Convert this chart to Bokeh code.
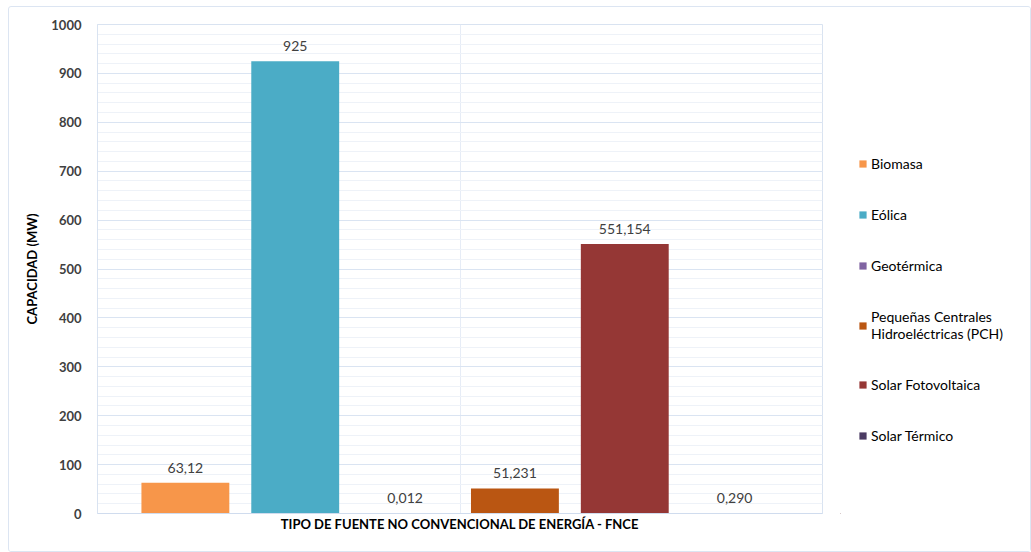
from bokeh.plotting import figure
from bokeh.layouts import row
from bokeh.models import (ColumnDataSource, Range1d, SingleIntervalTicker, FixedTicker,
                          Legend, LegendItem)
from bokeh.core.properties import value
from bokeh.embed import file_html
from bokeh.resources import INLINE

categories = ["Biomasa", "Eólica", "Geotérmica",
              "Pequeñas Centrales\nHidroeléctricas (PCH)",
              "Solar Fotovoltaica", "Solar Térmico"]
capacities = [63.12, 925, 0.012, 51.231, 551.154, 0.290]
value_labels = ["63,12", "925", "0,012", "51,231", "551,154", "0,290"]
colors = ["#F7964A", "#4BACC6", "#8064A2", "#BA5612", "#953735", "#4B3B63"]

FONT = "Lato"
H = 544

p = figure(width=831, height=H, output_backend="svg", toolbar_location=None,
           x_range=Range1d(-0.8, 5.8), y_range=Range1d(0, 1000),
           min_border_left=88, min_border_right=18, min_border_top=17,
           min_border_bottom=38)
p.background_fill_color = "white"
p.border_fill_color = "white"
p.outline_line_color = "#D9E3F1"

src = ColumnDataSource(dict(x=list(range(len(categories))), top=capacities,
                            color=colors, label=value_labels))

p.vbar(x="x", top="top", width=0.8, bottom=0, fill_color="color",
       line_color=None, source=src)

p.text(x="x", y="top", text="label", source=src, text_align="center",
       text_baseline="bottom", y_offset=-10, text_font=value(FONT),
       text_font_size="14px", text_color="#404040")

# axes
p.yaxis.ticker = SingleIntervalTicker(interval=100, num_minor_ticks=5)
p.yaxis.major_tick_line_color = None
p.yaxis.minor_tick_line_color = None
p.yaxis.axis_line_color = "#D9E3F1"
p.yaxis.major_label_text_font = FONT
p.yaxis.major_label_text_font_size = "13px"
p.yaxis.major_label_text_font_style = "bold"
p.yaxis.major_label_text_color = "#404040"
p.yaxis.major_label_standoff = 10
p.yaxis.axis_label = "CAPACIDAD (MW)"
p.yaxis.axis_label_text_font = FONT
p.yaxis.axis_label_text_font_size = "13px"
p.yaxis.axis_label_text_font_style = "bold"
p.yaxis.axis_label_text_color = "#000000"
p.yaxis.axis_label_standoff = 8

p.xaxis.ticker = FixedTicker(ticks=[])
p.xaxis.major_tick_line_color = None
p.xaxis.minor_tick_line_color = None
p.xaxis.major_label_text_font_size = "0px"
p.xaxis.axis_line_color = "#D0DCEE"
p.xaxis.axis_label = "TIPO DE FUENTE NO CONVENCIONAL DE ENERGÍA - FNCE"
p.xaxis.axis_label_text_font = FONT
p.xaxis.axis_label_text_font_size = "13px"
p.xaxis.axis_label_text_font_style = "bold"
p.xaxis.axis_label_text_color = "#000000"
p.xaxis.axis_label_standoff = 2

# grids
p.ygrid.ticker = SingleIntervalTicker(interval=100, num_minor_ticks=5)
p.ygrid.grid_line_color = "#DAE4F2"
p.ygrid.minor_grid_line_color = "#EEF2F8"
p.xgrid.ticker = FixedTicker(ticks=[2.5])
p.xgrid.grid_line_color = "#E6ECF6"

# legend figure (legend keys drawn from the same data, kept outside the visible range)
lg = figure(width=190, height=H, output_backend="svg", toolbar_location=None,
            x_range=Range1d(100, 110), y_range=Range1d(5000, 6000),
            min_border=0)
lg.axis.visible = False
lg.grid.visible = False
lg.outline_line_color = None
lg.background_fill_color = "white"
lg.border_fill_color = "white"

items = []
for i in range(len(categories)):
    r = lg.vbar(x=[i], top=[capacities[i]], width=0.8, bottom=0,
                fill_color=colors[i], line_color=None)
    items.append(LegendItem(label=categories[i], renderers=[r]))

legend = Legend(items=items, location=(18, 69), orientation="vertical",
                label_text_font=FONT, label_text_font_size="14px",
                label_text_color="#000000", glyph_width=9, glyph_height=9,
                label_height=17, spacing=34, padding=0, margin=0,
                border_line_color=None, background_fill_alpha=0,
                label_standoff=4)
lg.add_layout(legend, "center")

layout = row(p, lg)
layout.styles = {"margin-left": "8px", "margin-top": "6px",
                 "border": "1px solid #DCE5F2", "border-radius": "3px"}

open("out.html", "w").write(file_html(layout, INLINE))
